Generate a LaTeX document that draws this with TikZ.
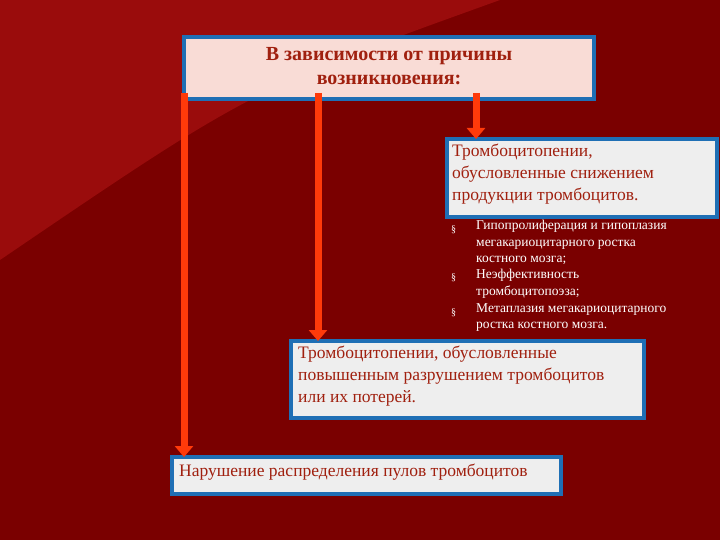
\documentclass[tikz,border=0pt]{standalone}
\usepackage{fontspec}
\setmainfont{Liberation Serif}
\usetikzlibrary{arrows.meta}
\definecolor{bgdark}{HTML}{7A0000}
\definecolor{bglight}{HTML}{9A0C0C}
\definecolor{frame}{HTML}{1F6FB5}
\definecolor{pinkfill}{HTML}{F9DCD6}
\definecolor{grayfill}{HTML}{EEEEEE}
\definecolor{arr}{HTML}{FF3A0A}
\definecolor{txt}{HTML}{A0200F}
\tikzset{
 bigarrow/.style={draw=arr,line width=7pt,-{Triangle[width=18pt,length=11pt]}},
 btext/.style={font=\fontsize{17.5}{22}\selectfont,text=txt,align=left,anchor=north west,inner sep=0pt},
 small/.style={font=\fontsize{13.5}{16.5}\selectfont,text=white,align=left,anchor=north west,inner sep=0pt},
 bul/.style={font=\fontsize{10}{10}\selectfont,text=white,anchor=north west,inner sep=0pt}
}
\begin{document}
\begin{tikzpicture}[x=1pt,y=-1pt]
\useasboundingbox (0,0) rectangle (720,540);
\fill[bgdark] (0,0) rectangle (720,540);
\fill[bglight] (0,0) -- (500,0) .. controls (250,90) .. (0,260) -- cycle;
% boxes
\fill[pinkfill] (184,37) rectangle (594,99);
\draw[frame,line width=4pt] (184,37) rectangle (594,99);
\node (top) [font=\bfseries\fontsize{20}{24}\selectfont,text=txt,align=center] at (389,66) {В зависимости от причины\\возникновения:};
\fill[grayfill] (447,139) rectangle (717,217);
\draw[frame,line width=4pt] (447,139) rectangle (717,217);
\node (b2) [btext] at (452,144) {Тромбоцитопении,\\обусловленные снижением\\продукции тромбоцитов.};
\fill[grayfill] (291,341) rectangle (644,418);
\draw[frame,line width=4pt] (291,341) rectangle (644,418);
\node (b3) [btext] at (298,346) {Тромбоцитопении, обусловленные\\повышенным разрушением тромбоцитов\\или их потерей.};
\fill[grayfill] (172,457) rectangle (561,494);
\draw[frame,line width=4pt] (172,457) rectangle (561,494);
\node (b4) [btext] at (179,464) {Нарушение распределения пулов тромбоцитов};
% bullets
\node[bul] at (451,226) {§};
\node[small] at (476,220) {Гипопролиферация и гипоплазия\\мегакариоцитарного ростка\\костного мозга;};
\node[bul] at (451,274) {§};
\node[small] at (476,269) {Неэффективность\\тромбоцитопоэза;};
\node[bul] at (451,309) {§};
\node[small] at (476,303) {Метаплазия мегакариоцитарного\\ростка костного мозга.};
% arrows
\coordinate (a1s) at (184,93); \coordinate (a1e) at (184,457);
\coordinate (a2s) at (318,93); \coordinate (a2e) at (318,341);
\coordinate (a3s) at (476,93); \coordinate (a3e) at (476,139);
\draw[bigarrow] (a1s) -- (a1e);
\draw[bigarrow] (a2s) -- (a2e);
\draw[bigarrow] (a3s) -- (a3e);
\end{tikzpicture}
\end{document}
